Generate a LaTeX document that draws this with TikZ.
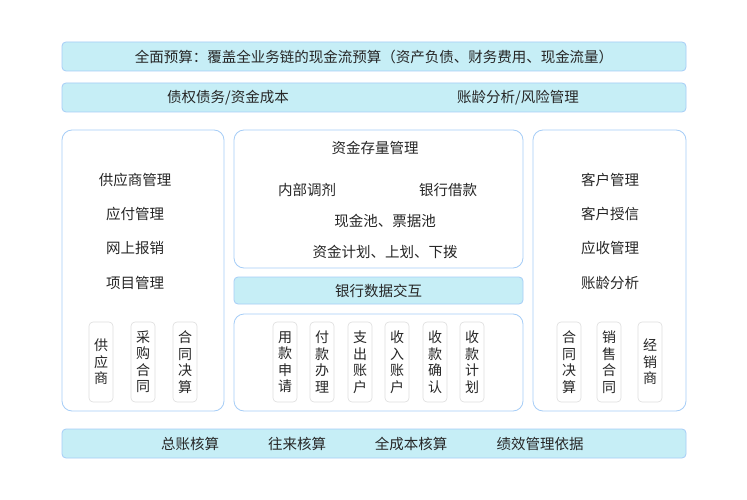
\documentclass[tikz,border=0pt]{standalone}
\usepackage{fontspec}
\setmainfont{Noto Sans CJK SC}
\begin{document}
\begin{tikzpicture}[x=1pt,y=-1pt,
  bar/.style={draw=bluebd,fill=cyanf,rounded corners=4pt,line width=0.8pt},
  panel/.style={draw=bluebd,fill=white,rounded corners=10pt,line width=0.8pt},
  vbox/.style={draw=grayb,fill=white,rounded corners=4pt,line width=0.6pt},
  txt/.style={font=\fontsize{14.5}{16}\selectfont,text=black!85},
  vtxt/.style={font=\fontsize{14}{16.5}\selectfont,align=center,text=black!85}]
\definecolor{bluebd}{HTML}{A6CDF7}
\definecolor{cyanf}{HTML}{C6EEF6}
\definecolor{grayb}{HTML}{DDDDDD}
\useasboundingbox (0,0) rectangle (747,500);
\fill[white] (0,0) rectangle (747,500);
% bars
\draw[bar] (62,42) rectangle (686,71);
\node[txt] (b1) at (374,56.5) {全面预算：覆盖全业务链的现金流预算（资产负债、财务费用、现金流量）};
\draw[bar] (62,83) rectangle (686,112);
\node[txt] (b2a) at (228,97.5) {债权债务/资金成本};
\node[txt] (b2b) at (518,97.5) {账龄分析/风险管理};
\draw[bar] (62,429) rectangle (686,458);
\node[txt] (f1) at (190,443.5) {总账核算};
\node[txt] (f2) at (297,443.5) {往来核算};
\node[txt] (f3) at (411,443.5) {全成本核算};
\node[txt] (f4) at (540,443.5) {绩效管理依据};
% panels
\draw[panel] (62,130) rectangle (224,411);
\draw[panel] (234,130) rectangle (523,268);
\draw[bar] (234,277) rectangle (523,304);
\draw[panel] (234,314) rectangle (523,411);
\draw[panel] (533,130) rectangle (686,411);
% left texts
\node[txt] (l1) at (135,180) {供应商管理};
\node[txt] (l2) at (135,214) {应付管理};
\node[txt] (l3) at (135,248) {网上报销};
\node[txt] (l4) at (135,283) {项目管理};
% middle
\node[txt] (m0) at (375,148) {资金存量管理};
\node[txt] (m1) at (307,190) {内部调剂};
\node[txt] (m2) at (448,190) {银行借款};
\node[txt] (m3) at (385,221) {现金池、票据池};
\node[txt] (m4) at (385,252) {资金计划、上划、下拨};
\node[txt] (bk) at (378.5,290.5) {银行数据交互};
% right
\node[txt] (r1) at (610,180) {客户管理};
\node[txt] (r2) at (610,214) {客户授信};
\node[txt] (r3) at (610,248) {应收管理};
\node[txt] (r4) at (610,283) {账龄分析};
% vertical boxes
\foreach \x/\t/\n in {101/{供\\应\\商}/va,143/{采\\购\\合\\同}/vb,185/{合\\同\\决\\算}/vc,
  285/{用\\款\\申\\请}/vd,322/{付\\款\\办\\理}/ve,360/{支\\出\\账\\户}/vf,
  397/{收\\入\\账\\户}/vg,435/{收\\款\\确\\认}/vh,472/{收\\款\\计\\划}/vi,
  569/{合\\同\\决\\算}/vj,609/{销\\售\\合\\同}/vk,650/{经\\销\\商}/vl}{
  \draw[vbox] (\x-12,322) rectangle (\x+12,402);
  \node[vtxt] (\n) at (\x,362) {\t};
}
\end{tikzpicture}
\end{document}
